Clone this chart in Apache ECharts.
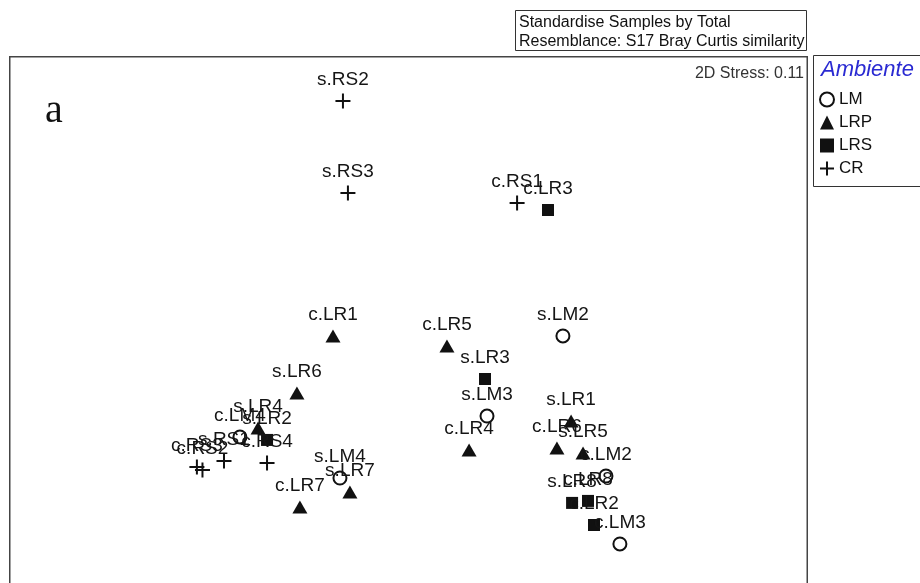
<!DOCTYPE html>
<html>
<head>
<meta charset="utf-8">
<script src="https://cdn.jsdelivr.net/npm/echarts@6/dist/echarts.min.js"></script>
<style>
  html, body { margin: 0; padding: 0; background: #fff; }
  #chart { width: 920px; height: 583px; }
</style>
</head>
<body>
<div id="chart"></div>
<script>
// nMDS ordination (2D), samples as [label, axis1, axis2]
const lmSamples = [
  ['s.LM2', 0.775, -0.100],
  ['s.LM3', 0.394, -0.502],
  ['s.LM4', -0.344, -0.813],
  ['c.LM4', -0.846, -0.607],
  ['c.LM2', 0.991, -0.803],
  ['c.LM3', 1.061, -1.144]
];
const lrpSamples = [
  ['c.LR1', -0.379, -0.100],
  ['c.LR5', 0.193, -0.150],
  ['s.LR6', -0.560, -0.386],
  ['c.LR4', 0.304, -0.672],
  ['s.LR1', 0.816, -0.527],
  ['c.LR6', 0.745, -0.662],
  ['s.LR5', 0.876, -0.687],
  ['s.LR4', -0.755, -0.562],
  ['s.LR7', -0.294, -0.883],
  ['c.LR7', -0.545, -0.958]
];
const lrsSamples = [
  ['c.LR3', 0.700, 0.532],
  ['s.LR3', 0.384, -0.316],
  ['s.LR2', -0.710, -0.622],
  ['s.LR8', 0.821, -0.938],
  ['c.LR8', 0.901, -0.928],
  ['c.LR2', 0.931, -1.049]
];
const crSamples = [
  ['s.RS2', -0.329, 1.079],
  ['s.RS3', -0.304, 0.617],
  ['c.RS1', 0.545, 0.567],
  ['s.RS1', -0.926, -0.728],
  ['c.RS4', -0.710, -0.738],
  ['c.RS3', -1.062, -0.758],
  ['c.RS2', -1.034, -0.773]
];
const groupNames = ['LM', 'LRP', 'LRS', 'CR'];
const headerLines = ['Standardise Samples by Total', 'Resemblance: S17 Bray Curtis similarity'];
const stressText = '2D Stress: 0.11';
const legendTitle = 'Ambiente';
const panelLetter = 'a';

const INK = '#111';
const SANS = '"Liberation Sans", Arial, sans-serif';
const crossPath = 'path://M0,5L10,5M5,0L5,10';

function toData(rows) {
  return rows.map(r => ({ name: r[0], value: [r[1], r[2]] }));
}

const labelStyle = {
  show: true,
  position: 'inside',
  offset: [0, -21],
  formatter: '{b}',
  color: '#151515',
  fontFamily: SANS,
  fontSize: 19
};

function makeSeries(name, rows, symbol, size, style) {
  return {
    name: name,
    type: 'scatter',
    data: toData(rows),
    symbol: symbol,
    symbolSize: size,
    itemStyle: Object.assign({ opacity: 1 }, style),
    label: labelStyle,
    emphasis: { disabled: true },
    clip: false
  };
}

const chart = echarts.init(document.getElementById('chart'), null, { renderer: 'canvas' });

chart.setOption({
  backgroundColor: '#fff',
  animation: false,
  // plotting area runs to the bottom edge of the page; the frame is drawn separately
  grid: { left: 10, width: 797, top: 57, bottom: 0, show: false },
  xAxis: { type: 'value', min: -2, max: 2, show: false },
  yAxis: { type: 'value', min: -1.34, max: 1.3, show: false },
  title: {
    text: legendTitle,
    left: 816, top: 54,
    textStyle: {
      color: '#2a2ad2', fontStyle: 'italic', fontWeight: 'normal',
      fontFamily: SANS, fontSize: 22
    }
  },
  legend: {
    data: groupNames,
    orient: 'vertical',
    left: 814, top: 86,
    itemWidth: 14, itemHeight: 14, itemGap: 6,
    selectedMode: false,
    textStyle: { color: '#111', fontFamily: SANS, fontSize: 17 }
  },
  graphic: [
    {
      type: 'rect', z: -1, silent: true,
      shape: { x: 9.75, y: 56.75, width: 797.5, height: 540 },
      style: { fill: 'none', stroke: '#444', lineWidth: 1.5 }
    },
    {
      type: 'rect', z: 100,
      shape: { x: 515.5, y: 10.5, width: 291, height: 40 },
      style: { fill: '#fff', stroke: '#333', lineWidth: 1 }
    },
    {
      type: 'text', z: 101, left: 519, top: 13,
      style: {
        text: headerLines.join('\n'), fill: '#111', lineHeight: 19,
        font: '16px ' + SANS
      }
    },
    {
      type: 'rect', z: 100,
      shape: { x: 813.5, y: 55.5, width: 120, height: 131 },
      style: { fill: 'none', stroke: '#333', lineWidth: 1 }
    },
    {
      type: 'text', z: 101, right: 116, top: 66,
      style: { text: stressText, fill: '#333', font: '16px ' + SANS }
    },
    {
      type: 'text', z: 101,
      style: {
        text: panelLetter, x: 45, y: 111, verticalAlign: 'middle', fill: '#111',
        font: '40px "Liberation Serif", "DejaVu Serif", serif'
      }
    }
  ],
  series: [
    makeSeries('LM', lmSamples, 'circle', 13,
      { color: 'rgba(255,255,255,0)', borderColor: INK, borderWidth: 2 }),
    makeSeries('LRP', lrpSamples, 'triangle', [15, 13], { color: INK }),
    makeSeries('LRS', lrsSamples, 'rect', 12, { color: INK }),
    makeSeries('CR', crSamples, crossPath, 15,
      { color: 'rgba(255,255,255,0)', borderColor: INK, borderWidth: 2 })
  ]
});
</script>
</body>
</html>
